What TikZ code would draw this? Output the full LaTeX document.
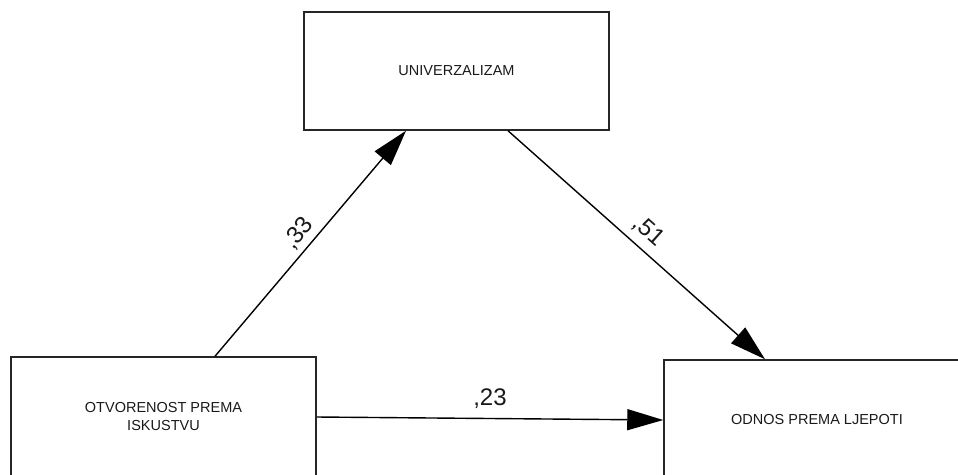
\documentclass[tikz,border=0pt]{standalone}
\usepackage{fontspec}
\setmainfont{Liberation Sans}
\usetikzlibrary{arrows.meta,calc}
\begin{document}
\begin{tikzpicture}[x=1pt,y=-1pt,
  box/.style={draw=black!85,line width=1.5pt,rectangle,inner sep=0pt,
    font=\fontsize{14.5}{18}\selectfont,text=black!90,align=center},
  link/.style={line width=1.4pt,-{Triangle[length=36pt,width=21pt]}},
  coef/.style={font=\fontsize{24}{28}\selectfont,text=black!90,inner sep=0pt}]
\useasboundingbox (0,0) rectangle (958,474);
\node[box,minimum width=305pt,minimum height=118pt] (U) at (456.5,71) {UNIVERZALIZAM};
\node[box,minimum width=305pt,minimum height=120pt] (O) at (163.5,417) {OTVORENOST PREMA\\ISKUSTVU};
\node[box,minimum width=306pt,minimum height=120pt] (L) at (817,420) {ODNOS PREMA LJEPOTI};
\draw[link] ([xshift=51.5pt]O.north) -- node[coef,sloped,above=5pt,pos=0.5] {,33} ([xshift=-50.5pt]U.south);
\draw[link] ([xshift=51.5pt]U.south) -- node[coef,sloped,above=8pt,pos=0.5] {,51} ([xshift=-52pt]L.north);
\draw[link] (O.east) -- node[coef,above=9pt,pos=0.5] {,23} (L.west);
\end{tikzpicture}
\end{document}
